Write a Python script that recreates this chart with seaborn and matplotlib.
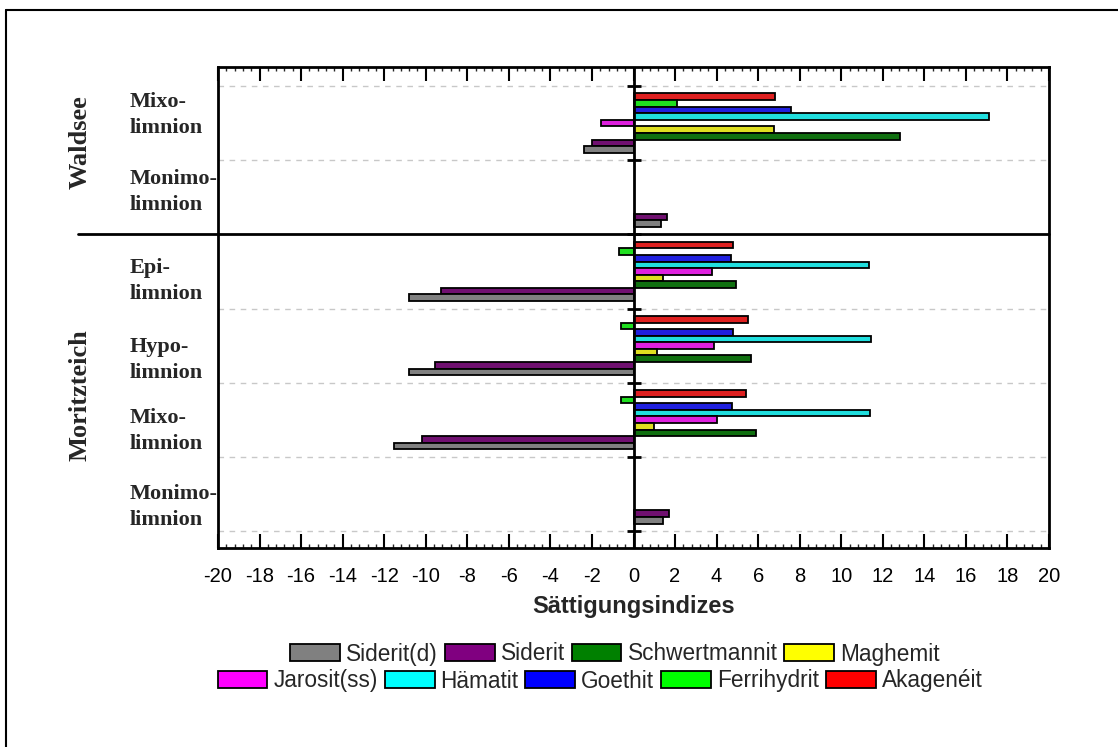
# Saturation indices of iron minerals (Waldsee / Moritzteich)
#   horizontal grouped bars per lake layer, 9 minerals each
import numpy as np
import pandas as pd
import matplotlib.pyplot as plt
import seaborn as sns
from matplotlib.patches import Patch
from matplotlib.lines import Line2D
from matplotlib.ticker import MultipleLocator

nan = np.nan

# layers from top to bottom of the chart
layers = ['Waldsee Mixo', 'Waldsee Monimo', 'Moritz Epi',
          'Moritz Hypo', 'Moritz Mixo', 'Moritz Monimo']
layer_labels = ['Mixo-\nlimnion', 'Monimo-\nlimnion', 'Epi-\nlimnion',
                'Hypo-\nlimnion', 'Mixo-\nlimnion', 'Monimo-\nlimnion']

# minerals in drawing order inside each group (top to bottom)
minerals = ['Akagenéit', 'Ferrihydrit', 'Goethit', 'Hämatit', 'Jarosit(ss)',
            'Maghemit', 'Schwertmannit', 'Siderit', 'Siderit(d)']
colors = ['#ff0000', '#00ff00', '#0000ff', '#00ffff', '#ff00ff',
          '#ffff00', '#008000', '#800080', '#808080']

akageneit = [6.82, nan, 4.81, 5.50, 5.40, nan]
ferrihydrit = [2.11, nan, -0.71, -0.59, -0.59, nan]
goethit = [7.57, nan, 4.69, 4.77, 4.73, nan]
haematit = [17.09, nan, 11.32, 11.42, 11.38, nan]
jarosit = [-1.57, nan, 3.77, 3.89, 4.02, nan]
maghemit = [6.78, nan, 1.42, 1.15, 0.98, nan]
schwertmannit = [12.82, nan, 4.94, 5.67, 5.92, nan]
siderit = [-1.99, 1.61, -9.27, -9.54, -10.17, 1.72]
siderit_d = [-2.36, 1.30, -10.82, -10.82, -11.51, 1.42]

series = [akageneit, ferrihydrit, goethit, haematit, jarosit,
          maghemit, schwertmannit, siderit, siderit_d]

# long table for seaborn
rows = []
for name, vals in zip(minerals, series):
    for layer, v in zip(layers, vals):
        rows.append({'layer': layer, 'mineral': name, 'SI': v})
df = pd.DataFrame(rows).dropna()

sns.set_style('white')
plt.rcParams['font.family'] = ['Liberation Sans', 'DejaVu Sans']
plt.rcParams['axes.unicode_minus'] = False

fig = plt.figure(figsize=(11.18, 7.47), dpi=100)
ax = fig.add_axes([218 / 1118, 1 - 548 / 747, (1049 - 218) / 1118, (548 - 67) / 747])

sns.barplot(data=df, x='SI', y='layer', hue='mineral', order=layers,
            hue_order=minerals, palette=colors, orient='h', width=0.8,
            errorbar=None, edgecolor='black', linewidth=1.3, legend=False,
            ax=ax, zorder=3)

ax.set_xlim(-20, 20)
ax.set_ylim(5.73, -0.757)
ax.xaxis.set_major_locator(MultipleLocator(2))
ax.xaxis.set_minor_locator(MultipleLocator(0.4))
ax.tick_params(axis='x', which='major', direction='in', length=10, width=1.5,
               top=True, bottom=True, labelsize=14.5, pad=14, colors='black')
ax.tick_params(axis='x', which='minor', direction='in', length=3, width=1,
               top=True, bottom=True)
ax.set_yticks([])
ax.set_ylabel('')
ax.set_xlabel('Sättigungsindizes', fontsize=17, fontweight='bold', labelpad=6)
for s in ax.spines.values():
    s.set_linewidth(2)
    s.set_color('black')

# group boundaries: dashed grid, solid line between the two lakes
bounds = [-0.5, 0.5, 1.5, 2.5, 3.5, 4.5, 5.5]
for b in bounds:
    if b == 1.5:
        ax.plot([-0.168, 1], [b, b], color='black', lw=2,
                transform=ax.get_yaxis_transform(), clip_on=False, zorder=4)
    else:
        ax.axhline(b, color='#c8c8c8', lw=1, ls=(0, (4, 4)), zorder=1)
    ax.plot([0], [b], marker='_', ms=10, mew=2, color='black', zorder=5)
ax.axvline(0, color='black', lw=2, zorder=5)

# layer names (two lines, bold serif)
label_offsets = [-0.115, -0.068, 0.135, 0.19, 0.15, 0.18]
for i, (lab, off) in enumerate(zip(layer_labels, label_offsets)):
    ax.text(-0.106, i + off, lab, transform=ax.get_yaxis_transform(),
            ha='left', va='center', fontsize=16, fontweight='bold',
            family='Liberation Serif', linespacing=1.4)

# lake names
fig.text(80 / 1118, 1 - 142 / 747, 'Waldsee', rotation=90, ha='center',
         va='center', fontsize=19, fontweight='bold', family='Liberation Serif')
fig.text(80 / 1118, 1 - 395 / 747, 'Moritzteich', rotation=90, ha='center',
         va='center', fontsize=19, fontweight='bold', family='Liberation Serif')

# legend in two rows, reversed order
handles = [Patch(facecolor=c, edgecolor='black', lw=1.3, label=m)
           for m, c in zip(minerals, colors)][::-1]
leg_kw = dict(frameon=False, fontsize=16.3, handlelength=2.2, handleheight=0.8,
              handletextpad=0.27, columnspacing=0.3, borderaxespad=0)
fig.legend(handles=handles[:4], ncol=4, loc='center',
           bbox_to_anchor=(615 / 1118, 1 - 654 / 747), **leg_kw)
fig.legend(handles=handles[4:], ncol=5, loc='center',
           bbox_to_anchor=(600 / 1118, 1 - 681 / 747), **leg_kw)

# outer frame (left and top edges)
fig.add_artist(Line2D([6 / 1118, 6 / 1118], [0, 1 - 10 / 747], color='black', lw=1.5))
fig.add_artist(Line2D([6 / 1118, 1], [1 - 10 / 747, 1 - 10 / 747], color='black', lw=1.5))

fig.savefig('out.png', dpi=100)
